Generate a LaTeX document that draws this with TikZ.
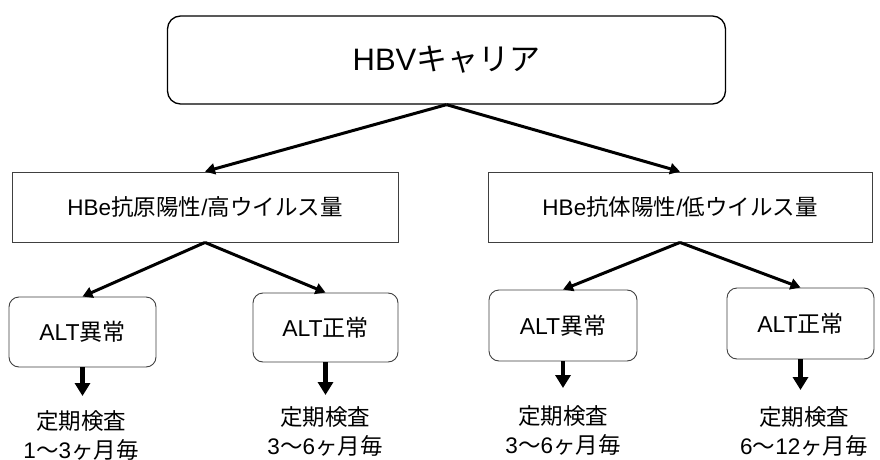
\documentclass[tikz,border=0pt]{standalone}
\usepackage{fontspec}
\setmainfont{Noto Sans CJK JP}
\newfontfamily\lat{Liberation Sans}
\usetikzlibrary{arrows.meta,calc}
\begin{document}
\begin{tikzpicture}[x=1pt,y=-1pt,
  topbox/.style={draw=black,line width=1.3pt,rounded corners=13pt,minimum width=558pt,minimum height=88pt,inner sep=0pt,font=\fontsize{31}{36}\selectfont},
  midbox/.style={draw=black!75,line width=0.9pt,minimum width=386pt,minimum height=70pt,inner sep=0pt,font=\fontsize{22.5}{27}\selectfont},
  altbox/.style={draw=black!75,line width=0.9pt,rounded corners=10pt,minimum width=147pt,minimum height=70pt,inner sep=0pt,font=\fontsize{23}{27}\selectfont},
  result/.style={align=center,inner sep=0pt,font=\fontsize{22.5}{29}\selectfont},
  conn/.style={line width=3pt,-{Triangle[length=10pt,width=11pt]}},
  thick arrow/.style={line width=4.5pt,-{Triangle[length=13pt,width=15pt]}}]
\useasboundingbox[fill=white] (0,0) rectangle (880,460);

\node[topbox] (top) at (446.5,60) {{\lat HBV}キャリア};
\node[midbox] (L) at (205,207) {{\lat HBe}抗原陽性{\lat /}高ウイルス量};
\node[midbox,minimum width=384pt] (R) at (680,207) {{\lat HBe}抗体陽性{\lat /}低ウイルス量};

\node[altbox] (A) at (82.5,332) {{\lat ALT}異常};
\node[altbox,minimum width=145pt,minimum height=69pt] (B) at (325.5,327.5) {{\lat ALT}正常};
\node[altbox,minimum width=148pt,minimum height=71pt] (C) at (563,325.5) {{\lat ALT}異常};
\node[altbox,minimum height=71pt] (D) at (800.5,323.5) {{\lat ALT}正常};

\draw[conn] (top.south) -- (L.north);
\draw[conn] (top.south) -- (R.north);
\draw[conn] (L.south) -- (A.north);
\draw[conn] (L.south) -- (B.north);
\draw[conn] (R.south) -- (C.north);
\draw[conn] (R.south) -- (D.north);

\node[result] (TA) at (81,435.5) {定期検査\\{\lat 1}～{\lat 3}ヶ月毎};
\node[result] (TB) at (325,431) {定期検査\\{\lat 3}～{\lat 6}ヶ月毎};
\node[result] (TC) at (563,430.5) {定期検査\\{\lat 3}～{\lat 6}ヶ月毎};
\node[result] (TD) at (804,431.5) {定期検査\\{\lat 6}～{\lat 12}ヶ月毎};

\coordinate (eA) at (82.5,396);
\coordinate (eB) at (325.5,395);
\coordinate (eC) at (563,388);
\coordinate (eD) at (800.5,390);
\draw[thick arrow] (A.south) -- (eA);
\draw[thick arrow] (B.south) -- (eB);
\draw[thick arrow] (C.south) -- (eC);
\draw[thick arrow] (D.south) -- (eD);
\end{tikzpicture}
\end{document}
